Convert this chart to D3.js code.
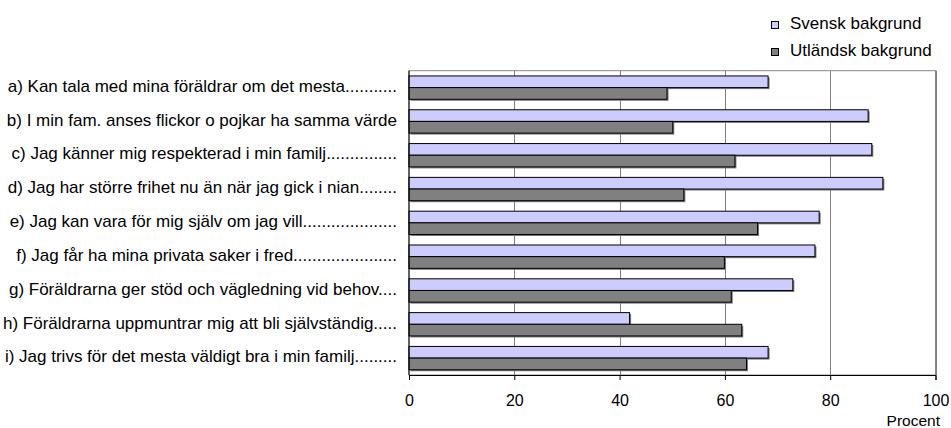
<!DOCTYPE html>
<html><head><meta charset="utf-8">
<script src="https://cdn.jsdelivr.net/npm/d3@7"></script>
<style>body{margin:0;background:#fff}svg text{font-family:"Liberation Sans",Arial,sans-serif;fill:#000}</style>
</head><body><svg id="c" width="951" height="428"></svg>
<script>
const categories = [
  "a) Kan tala med mina föräldrar om det mesta...........",
  "b) I min fam. anses flickor o pojkar ha samma värde",
  "c) Jag känner mig respekterad i min familj...............",
  "d) Jag har större frihet nu än när jag gick i nian........",
  "e) Jag kan vara för mig själv om jag vill....................",
  "f) Jag får ha mina privata saker i fred......................",
  "g) Föräldrarna ger stöd och vägledning vid behov....",
  "h) Föräldrarna uppmuntrar mig att bli självständig.....",
  "i) Jag trivs för det mesta väldigt bra i min familj........."
];
const seriesNames = ["Svensk bakgrund", "Utländsk bakgrund"];
const svensk = [68.2, 87.2, 87.9, 90.0, 77.9, 77.1, 72.9, 41.9, 68.2];
const utlandsk = [49.0, 50.1, 61.9, 52.2, 66.2, 59.9, 61.2, 63.2, 64.1];
const xTicks = [0, 20, 40, 60, 80, 100];
const colors = ["#CCCCFF", "#808080"];

const FONT = '"Liberation Sans",Arial,sans-serif';
const svg = d3.select("#c");
const L = 409, R = 935.5, T = 70.7, B = 375;
const x = d3.scaleLinear().domain([0, 100]).range([L, R]);
const y = d3.scaleBand().domain(categories).range([T, B]).paddingInner(0.31).paddingOuter(0.155);
const y1 = d3.scaleBand().domain(seriesNames).range([0, y.bandwidth()]);

// plot border
svg.append("rect").attr("x", L).attr("y", T).attr("width", R - L).attr("height", B - T)
  .attr("fill", "none").attr("stroke", "#888").attr("stroke-width", 1);
// gridlines
svg.append("g").selectAll("line").data(xTicks.slice(1)).join("line")
  .attr("x1", d => Math.round(x(d)) + 0.5).attr("x2", d => Math.round(x(d)) + 0.5)
  .attr("y1", T).attr("y2", B).attr("stroke", "#808080").attr("stroke-width", 1);

// bars
const data = categories.map((c, i) => ({c, vals: [svensk[i], utlandsk[i]]}));
const g = svg.append("g").selectAll("g").data(data).join("g")
  .attr("transform", d => `translate(0,${y(d.c)})`);
const bars = g.selectAll("g").data(d => d.vals.map((v, j) => ({v, j}))).join("g");
bars.append("rect")
  .attr("x", L + 1.5).attr("y", d => y1(seriesNames[d.j]) + 1.5)
  .attr("width", d => x(d.v) - L).attr("height", y1.bandwidth())
  .attr("fill", "#777");
bars.append("rect")
  .attr("x", L).attr("y", d => y1(seriesNames[d.j]))
  .attr("width", d => x(d.v) - L).attr("height", y1.bandwidth())
  .attr("fill", d => colors[d.j]).attr("stroke", "#000").attr("stroke-width", 1);

// axes
const xa = svg.append("g").attr("transform", `translate(0,${B})`)
  .call(d3.axisBottom(x).tickValues(xTicks).tickSize(5).tickPadding(14.5));
xa.select(".domain").attr("stroke", "#000");
xa.selectAll("text").attr("font-size", 16).style("font-family", FONT);
const ya = svg.append("g").attr("transform", `translate(${L},0)`)
  .call(d3.axisLeft(y).tickSize(0).tickPadding(12));
ya.select(".domain").attr("stroke", "#000").attr("d", `M0,${T}V${B}`);
ya.selectAll("text").attr("font-size", 17).attr("dy", "0.25em").style("font-family", FONT);

svg.append("text").attr("x", 940).attr("y", 425.5).attr("text-anchor", "end")
  .attr("font-size", 15.5).text("Procent");

// legend
const lg = svg.append("g").selectAll("g").data(seriesNames).join("g")
  .attr("transform", (d, i) => `translate(771,${21 + i * 27})`);
lg.append("rect").attr("x", 0.5).attr("y", 0.5).attr("width", 7).attr("height", 7)
  .attr("fill", (d, i) => colors[i]).attr("stroke", "#000");
lg.append("text").attr("x", 19).attr("y", 7.5).attr("font-size", 17).text(d => d);
</script></body></html>
